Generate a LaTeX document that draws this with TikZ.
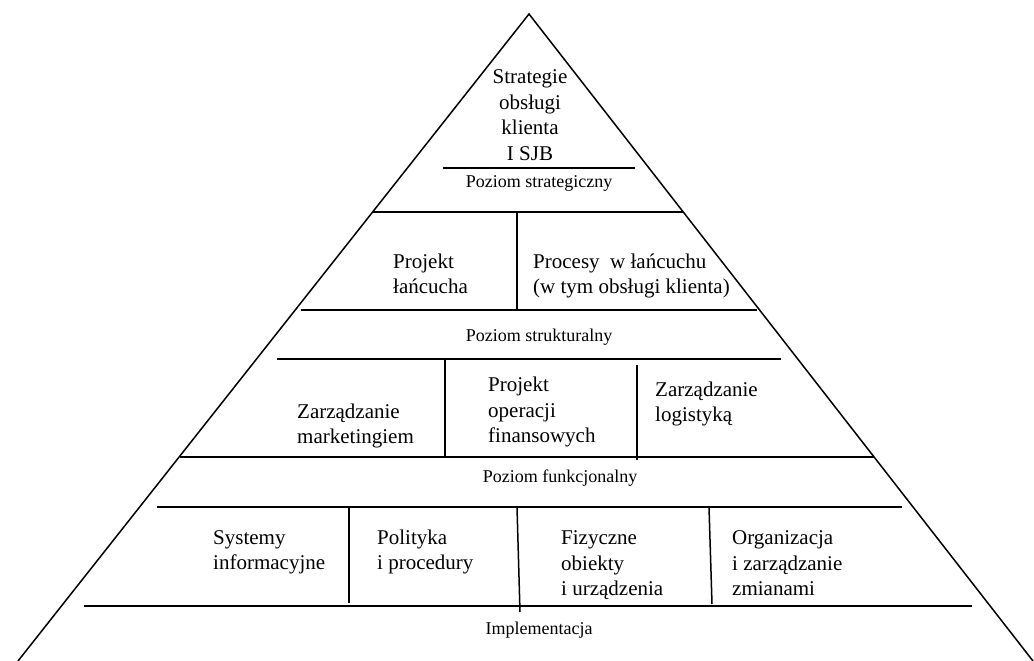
\documentclass[tikz,border=0pt]{standalone}
\usepackage{fontspec}
\setmainfont{Liberation Serif}
\begin{document}
\begin{tikzpicture}[x=1pt,y=-1pt,
  side/.style={line width=1.5pt},
  bar/.style={line width=2pt},
  divider/.style={line width=1.5pt},
  big/.style={font=\fontsize{21}{25.5}\selectfont, inner sep=0pt},
  lab/.style={font=\fontsize{18}{21}\selectfont, inner sep=0pt}]
\useasboundingbox (0,0) rectangle (1034,661);
\coordinate (apex) at (529,14);
\coordinate (bl) at (18,661);
\coordinate (br) at (1033,661);
\begin{scope}
\clip (0,0) rectangle (1034,661);
\draw[side, line join=miter] (bl) -- (apex) -- (br);
\end{scope}
% horizontal bars
\draw[bar] (443,168) coordinate (s1a) -- (635,168) coordinate (s1b);
\draw[bar] (373,212) coordinate (s2a) -- (683,212) coordinate (s2b);
\draw[bar] (301,310) coordinate (s3a) -- (757,310) coordinate (s3b);
\draw[bar] (277,359) coordinate (s4a) -- (781,359) coordinate (s4b);
\draw[bar] (180,457) coordinate (s5a) -- (874,457) coordinate (s5b);
\draw[bar] (157,507) coordinate (s6a) -- (902,507) coordinate (s6b);
\draw[bar] (84,606) coordinate (s7a) -- (972,606) coordinate (s7b);
% dividers
\draw[divider] (517,212) -- (517,310);
\draw[divider] (445,359) -- (445,456);
\draw[divider] (637,365) -- (637,460);
\draw[divider] (349,507) -- (349,603);
\draw[divider] (517,507) -- (520,612);
\draw[divider] (709,507) -- (712,604);
% texts
\node[big, align=center] (strat) at (530,117) {\strut Strategie\\obsługi\\klienta\\I SJB\strut};
\node[lab] (lstrat) at (539,183) {Poziom strategiczny};
\node[big, align=left, anchor=west] (proj) at (393,276) {\strut Projekt\\łańcucha\strut};
\node[big, align=left, anchor=west] (proc) at (533,276) {\strut Procesy~ w łańcuchu\\(w tym obsługi klienta)\strut};
\node[lab] (lstruct) at (539,337) {Poziom strukturalny};
\node[big, align=left, anchor=west] (mark) at (297,426) {\strut Zarządzanie\\marketingiem\strut};
\node[big, align=left, anchor=west] (fin) at (488,412) {\strut Projekt\\operacji\\finansowych\strut};
\node[big, align=left, anchor=west] (log) at (655,404) {\strut Zarządzanie\\logistyką\strut};
\node[lab] (lfunc) at (560,478) {Poziom funkcjonalny};
\node[big, align=left, anchor=west] (sys) at (213,552) {\strut Systemy\\informacyjne\strut};
\node[big, align=left, anchor=west] (pol) at (377,552) {\strut Polityka\\i procedury\strut};
\node[big, align=left, anchor=west] (fiz) at (561,565) {\strut Fizyczne\\obiekty\\i urządzenia\strut};
\node[big, align=left, anchor=west] (org) at (732,565) {\strut Organizacja\\i zarządzanie\\zmianami\strut};
\node[lab] (limpl) at (539,630) {Implementacja};
\end{tikzpicture}
\end{document}
